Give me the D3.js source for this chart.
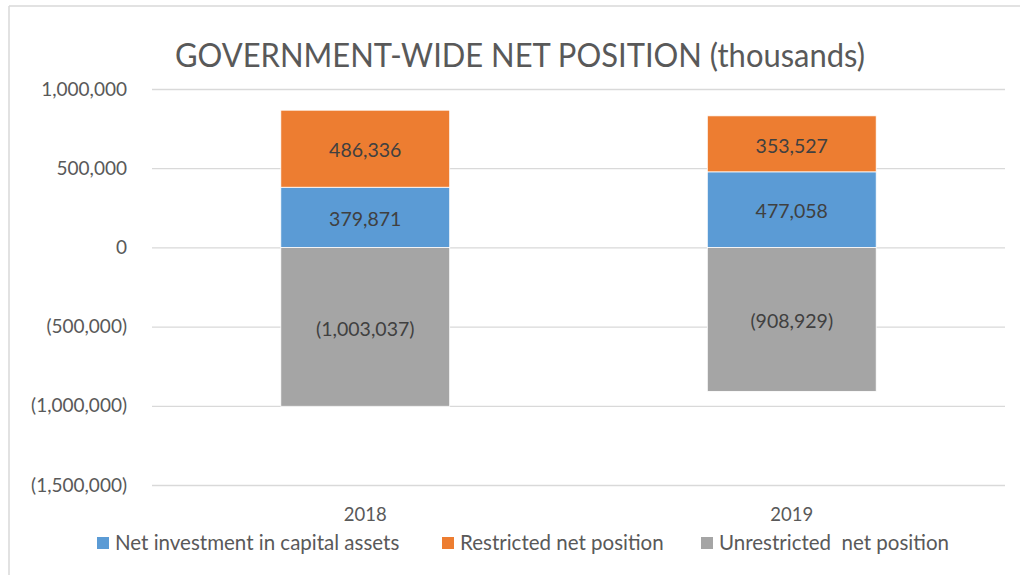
<!DOCTYPE html>
<html lang="en">
<head>
<meta charset="UTF-8">
<script src="https://cdnjs.cloudflare.com/ajax/libs/d3/7.8.5/d3.min.js"></script>
<style>
    body { margin: 0; background: #fff; }
    svg text { font-family: Lato, "Open Sans", sans-serif; fill: #595959; }
    .grid line { stroke: #d9d9d9; stroke-width: 1.3; }
    .grid path { display: none; }
</style>
<title>Government-wide net position</title>
</head>
<body>
<svg width="1020" height="575"></svg>
<script>
    // chart data
    const years = ['2018', '2019'];
    const seriesNames = ['Net investment in capital assets', 'Restricted net position', 'Unrestricted  net position'];
    const netInvestment = [379871, 477058];
    const restricted = [486336, 353527];
    const unrestricted = [-1003037, -908929];
    const yTicks = [1000000, 500000, 0, -500000, -1000000, -1500000];
    const colors = ['#5b9bd5', '#ed7d31', '#a5a5a5'];

    const svg = d3.select('svg');
    const width = 1020, height = 575;
    const margin = { top: 89, right: 15, bottom: 90, left: 152 };
    const innerW = width - margin.left - margin.right;

    // frame of the chart area (top and left edges only are visible)
    svg.append('line').attr('x1', 9).attr('x2', width).attr('y1', 6).attr('y2', 6)
        .attr('stroke', '#d9d9d9').attr('stroke-width', 1.5);
    svg.append('line').attr('x1', 9).attr('x2', 9).attr('y1', 6).attr('y2', height)
        .attr('stroke', '#d9d9d9').attr('stroke-width', 1.5);

    const x = d3.scaleBand().domain(years).range([margin.left, margin.left + innerW]);
    const y = d3.scaleLinear().domain([-1500000, 1000000]).range([485, 89]);
    const barW = x.bandwidth() * 0.396;

    const fmt = d3.format(',');
    const acct = v => v < 0 ? '(' + fmt(-v) + ')' : fmt(v);

    // title
    svg.append('text')
        .attr('x', 520).attr('y', 67)
        .attr('text-anchor', 'middle')
        .style('font-size', '33px')
        .attr('textLength', 690)
        .attr('lengthAdjust', 'spacingAndGlyphs')
        .text('GOVERNMENT-WIDE NET POSITION (thousands)');

    // gridlines
    svg.append('g').attr('class', 'grid')
        .attr('transform', `translate(${margin.left},0)`)
        .call(d3.axisLeft(y).tickValues(yTicks).tickSize(-innerW).tickFormat(''));

    // y labels
    svg.append('g').selectAll('text')
        .data(yTicks).enter().append('text')
        .attr('x', 127)
        .attr('y', d => y(d))
        .attr('dy', '0.35em')
        .attr('text-anchor', 'end')
        .style('font-size', '19px')
        .text(acct);

    // build stack rows
    const rows = years.map((yr, i) => ({
        year: yr,
        segs: [
            { v0: 0, v1: netInvestment[i], c: 0 },
            { v0: netInvestment[i], v1: netInvestment[i] + restricted[i], c: 1 },
            { v0: unrestricted[i], v1: 0, c: 2, neg: true }
        ]
    }));

    const bars = svg.append('g').selectAll('g')
        .data(rows).enter().append('g');

    bars.selectAll('rect')
        .data(d => d.segs.map(s => Object.assign({ year: d.year }, s)))
        .enter().append('rect')
        .attr('x', d => x(d.year) + x.bandwidth() / 2 - barW / 2)
        .attr('width', barW)
        .attr('y', d => y(d.v1))
        .attr('height', d => y(d.v0) - y(d.v1))
        .attr('fill', d => colors[d.c])
        .attr('stroke', '#fff')
        .attr('stroke-width', 0.8);

    bars.selectAll('text')
        .data(d => d.segs.map(s => Object.assign({ year: d.year }, s)))
        .enter().append('text')
        .attr('x', d => x(d.year) + x.bandwidth() / 2)
        .attr('y', d => (y(d.v0) + y(d.v1)) / 2)
        .attr('dy', '0.45em')
        .attr('text-anchor', 'middle')
        .style('font-size', '19.5px')
        .style('fill', '#404040')
        .text(d => acct(d.neg ? d.v0 : d.v1 - d.v0));

    // category labels
    svg.append('g').selectAll('text')
        .data(years).enter().append('text')
        .attr('x', d => x(d) + x.bandwidth() / 2)
        .attr('y', 515)
        .attr('dy', '0.35em')
        .attr('text-anchor', 'middle')
        .style('font-size', '18.5px')
        .text(d => d);

    // legend
    const legendX = [97, 442, 701];
    const legend = svg.append('g').selectAll('g')
        .data(seriesNames).enter().append('g')
        .attr('transform', (d, i) => `translate(${legendX[i]},543)`);
    legend.append('rect')
        .attr('x', 0).attr('y', -6).attr('width', 12).attr('height', 12)
        .attr('fill', (d, i) => colors[i]);
    legend.append('text')
        .attr('x', 18).attr('dy', '0.35em')
        .style('font-size', '20.5px')
        .style('white-space', 'pre')
        .text(d => d);
</script>
</body>
</html>
